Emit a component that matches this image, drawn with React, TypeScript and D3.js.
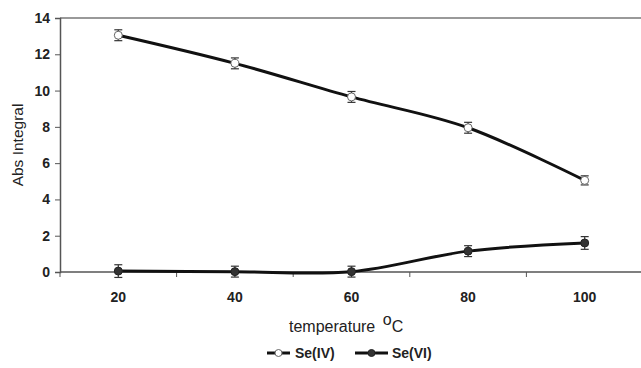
import { useEffect, useRef } from "react";
import * as d3 from "d3";

const temperatures = [20, 40, 60, 80, 100];
const seIV = [13.05, 11.5, 9.65, 7.95, 5.05];
const seIVErr = [0.3, 0.3, 0.3, 0.3, 0.25];
const seVI = [0.05, 0.02, 0.02, 1.15, 1.6];
const seVIErr = [0.35, 0.3, 0.3, 0.3, 0.35];
const yTicks = [0, 2, 4, 6, 8, 10, 12, 14];

export default function App() {
  const ref = useRef<SVGSVGElement | null>(null);

  useEffect(() => {
    const svg = d3.select(ref.current);
    svg.selectAll("*").remove();

    const width = 641;
    const height = 368;
    const margin = { top: 18, right: -2, bottom: 96, left: 60 };
    const font = "Liberation Sans, Arial, sans-serif";

    const x = d3
      .scaleBand<number>()
      .domain(temperatures)
      .range([margin.left, width - margin.right]);
    const cx = (d: number) => (x(d) as number) + x.bandwidth() / 2;

    const y = d3
      .scaleLinear()
      .domain([0, 14])
      .range([height - margin.bottom, margin.top]);

    // top border
    svg
      .append("line")
      .attr("x1", margin.left)
      .attr("x2", width)
      .attr("y1", y(14))
      .attr("y2", y(14))
      .attr("stroke", "#777")
      .attr("stroke-width", 1.5);

    // y axis
    const yAxis = svg
      .append("g")
      .attr("transform", `translate(${margin.left},0)`)
      .call(d3.axisLeft(y).tickValues(yTicks).tickSize(5).tickFormat(d3.format("d")));
    yAxis.select(".domain").attr("stroke", "#555").attr("stroke-width", 1.5);
    yAxis.selectAll(".tick line").attr("stroke", "#555");
    yAxis
      .selectAll("text")
      .attr("font-family", font)
      .attr("font-size", 14)
      .attr("font-weight", "bold")
      .attr("fill", "#222")
      .attr("x", -10);

    // x axis (category axis with ticks between categories)
    const xg = svg.append("g").attr("transform", `translate(0,${y(0)})`);
    xg.append("line")
      .attr("x1", margin.left)
      .attr("x2", width)
      .attr("stroke", "#555")
      .attr("stroke-width", 1.5);
    const bounds = temperatures.map((t) => x(t) as number).concat([x.range()[1]]);
    xg.selectAll("line.tk")
      .data(bounds)
      .join("line")
      .attr("class", "tk")
      .attr("x1", (d) => d)
      .attr("x2", (d) => d)
      .attr("y1", 0)
      .attr("y2", 5)
      .attr("stroke", "#555");
    xg.selectAll("text")
      .data(temperatures)
      .join("text")
      .attr("x", (d) => cx(d))
      .attr("y", 30)
      .attr("text-anchor", "middle")
      .attr("font-family", font)
      .attr("font-size", 14)
      .attr("font-weight", "bold")
      .attr("fill", "#222")
      .text((d) => d);

    // axis titles
    svg
      .append("text")
      .attr("transform", `translate(23,${(y(0) + y(14)) / 2}) rotate(-90)`)
      .attr("text-anchor", "middle")
      .attr("font-family", font)
      .attr("font-size", 15.5)
      .attr("fill", "#222")
      .text("Abs Integral");

    const xt = svg
      .append("text")
      .attr("x", 289)
      .attr("y", 332)
      .attr("font-family", font)
      .attr("font-size", 16)
      .attr("fill", "#222");
    xt.append("tspan").text("temperature ");
    xt.append("tspan").attr("dy", -7).attr("dx", 3).text("o");
    xt.append("tspan").attr("dy", 7).text("C");

    const line = d3
      .line<number>()
      .x((_, i) => cx(temperatures[i]))
      .y((d) => y(d))
      .curve(d3.curveCardinal.tension(0));

    const series = [
      { name: "Se(IV)", values: seIV, err: seIVErr, fill: "#fff", stroke: "#666" },
      { name: "Se(VI)", values: seVI, err: seVIErr, fill: "#333", stroke: "#222" },
    ];

    series.forEach((s) => {
      svg
        .append("path")
        .datum(s.values)
        .attr("d", line)
        .attr("fill", "none")
        .attr("stroke", "#111")
        .attr("stroke-width", 3);

      const g = svg.append("g");
      s.values.forEach((v, i) => {
        const px = cx(temperatures[i]);
        const top = y(v + s.err[i]);
        const bot = y(v - s.err[i]);
        g.append("line").attr("x1", px).attr("x2", px).attr("y1", top).attr("y2", bot).attr("stroke", "#333").attr("stroke-width", 1.2);
        [top, bot].forEach((yy) =>
          g.append("line").attr("x1", px - 4).attr("x2", px + 4).attr("y1", yy).attr("y2", yy).attr("stroke", "#333").attr("stroke-width", 1.2)
        );
        g.append("circle")
          .attr("cx", px)
          .attr("cy", y(v))
          .attr("r", 4)
          .attr("fill", s.fill)
          .attr("stroke", s.stroke)
          .attr("stroke-width", 1);
      });
    });

    // legend
    const legendItems = [
      { x0: 267, x1: 290, tx: 295 },
      { x0: 355, x1: 388, tx: 392 },
    ];
    series.forEach((s, i) => {
      const li = legendItems[i];
      const ly = 353;
      svg.append("line").attr("x1", li.x0).attr("x2", li.x1).attr("y1", ly).attr("y2", ly).attr("stroke", "#111").attr("stroke-width", 3);
      svg
        .append("circle")
        .attr("cx", (li.x0 + li.x1) / 2)
        .attr("cy", ly)
        .attr("r", 3.5)
        .attr("fill", s.fill)
        .attr("stroke", s.stroke);
      svg
        .append("text")
        .attr("x", li.tx)
        .attr("y", ly + 5)
        .attr("font-family", font)
        .attr("font-size", 14)
        .attr("font-weight", "bold")
        .attr("fill", "#222")
        .text(s.name);
    });
  }, []);

  return (
    <svg
      ref={ref}
      width={641}
      height={368}
      style={{ position: "absolute", left: 0, top: 0, background: "#fff" }}
    />
  );
}
